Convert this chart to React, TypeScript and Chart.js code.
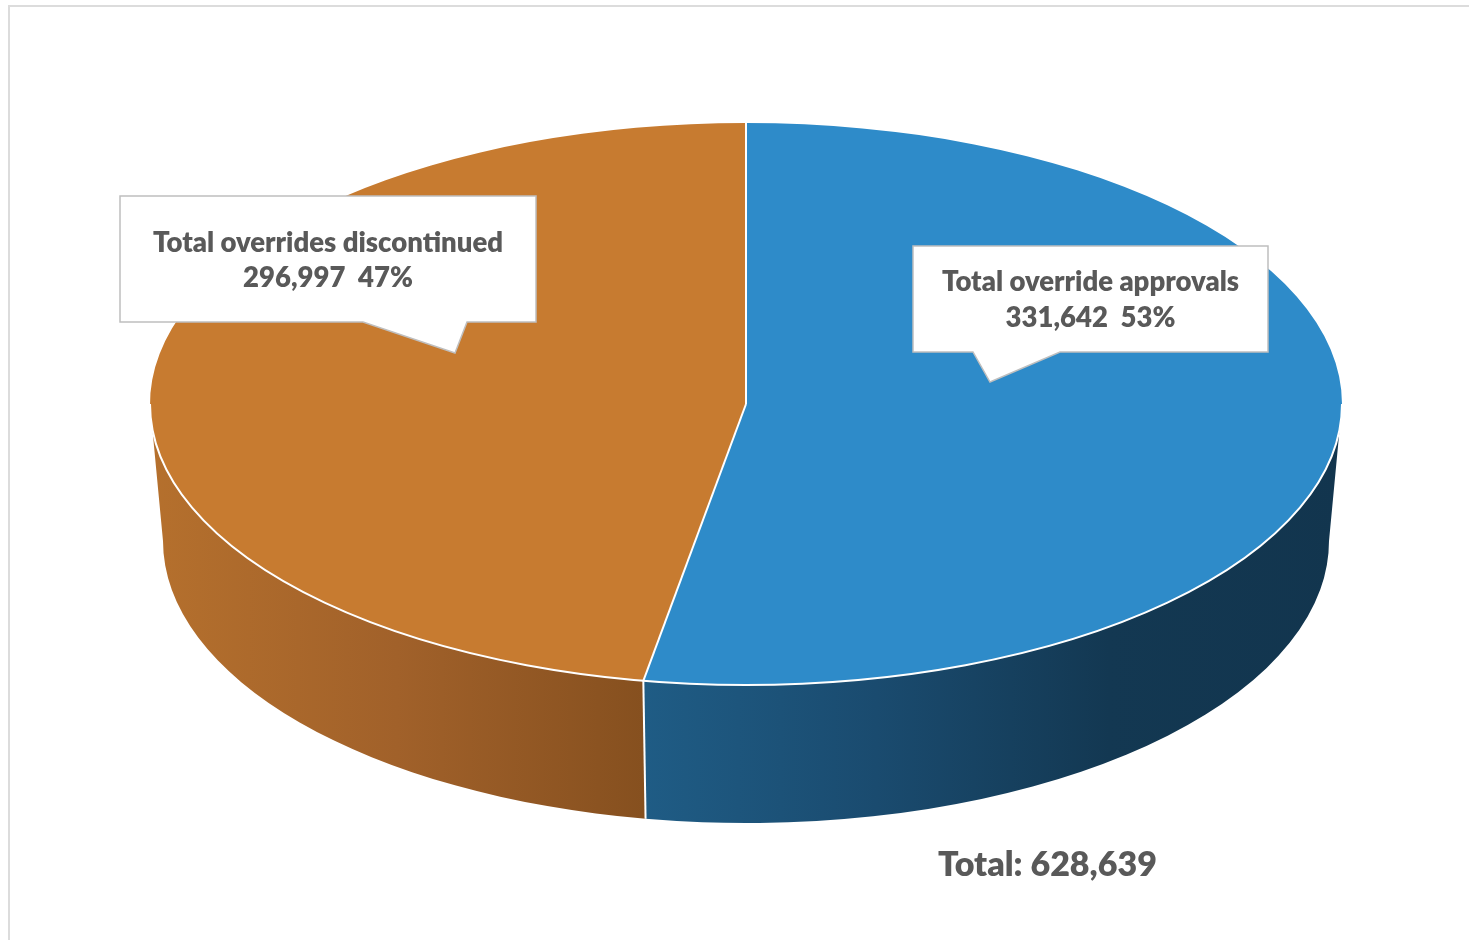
import React, { useEffect, useRef } from "react";
import { Chart, registerables } from "chart.js";

Chart.register(...registerables);

// ---- data ----
const CATEGORIES = ["Total override approvals", "Total overrides discontinued"];
const VALUES = [331642, 296997];
const TOTAL_PREFIX = "Total: ";

// ---- styles / layout ----
const TOP_COLORS = ["#2e8bc9", "#c77b30"];
const SIDE_COLORS = [
  ["#1f5c85", "#1a4b6f", "#133852", "#12354e"],
  ["#b5702d", "#a1612a", "#86501f"],
];
const CX = 746;
const CY = 404;
const RX = 596;
const RY = 281;
const DEPTH = 137;
const RXB = 583;
const RYB = 282;
const TEXT_COLOR = "#595959";
const FONT = "Lato, 'Open Sans', sans-serif";
const LABEL_WEIGHT = 800;
const LABEL_SIZE = 27.5;
const TOTAL_SIZE = 34;
const BOXES = [
  { x: 913, y: 246, w: 355, h: 106, pl: 973, pr: 1060, tx: 990, ty: 382, l1: 282, l2: 318 },
  { x: 120, y: 196, w: 416, h: 126, pl: 363, pr: 467, tx: 455, ty: 353, l1: 243, l2: 278 },
];

const fmt = (v: number) => v.toLocaleString("en-US");

const pie3d = {
  id: "pie3d",
  beforeDatasetsDraw(chart: any) {
    const ctx: CanvasRenderingContext2D = chart.ctx;
    const meta = chart.getDatasetMeta(0);
    // side walls
    meta.data.forEach((arc: any, i: number) => {
      const s = arc.startAngle;
      const e = arc.endAngle;
      for (const off of [0, -2 * Math.PI, 2 * Math.PI]) {
        const a1 = Math.max(s + off, 0);
        const a2 = Math.min(e + off, Math.PI);
        if (a2 <= a1) continue;
        const xl = CX + RX * Math.cos(a2);
        const xr = CX + RX * Math.cos(a1);
        const g = ctx.createLinearGradient(Math.min(xl, xr), 0, Math.max(xl, xr), 0);
        const cols = SIDE_COLORS[i % SIDE_COLORS.length];
        cols.forEach((c, k) => g.addColorStop(k / (cols.length - 1), c));
        ctx.save();
        ctx.beginPath();
        ctx.ellipse(CX, CY, RX, RY, 0, a1, a2, false);
        ctx.ellipse(CX, CY + DEPTH, RXB, RYB, 0, a2, a1, true);
        ctx.closePath();
        ctx.fillStyle = g;
        ctx.fill();
        ctx.restore();
      }
    });
    // vertical boundary lines on the side
    ctx.save();
    ctx.strokeStyle = "#ffffff";
    ctx.lineWidth = 2;
    meta.data.forEach((arc: any) => {
      let a = arc.startAngle;
      while (a < 0) a += 2 * Math.PI;
      while (a >= 2 * Math.PI) a -= 2 * Math.PI;
      if (a > 0.01 && a < Math.PI - 0.01) {
        ctx.beginPath();
        ctx.moveTo(CX + RX * Math.cos(a), CY + RY * Math.sin(a));
        ctx.lineTo(CX + RXB * Math.cos(a), CY + DEPTH + RYB * Math.sin(a));
        ctx.stroke();
      }
    });
    ctx.restore();
    // map the library's circle onto the ellipse of the top face
    const a0 = meta.data[0];
    ctx.save();
    ctx.translate(CX, CY);
    ctx.scale(RX / a0.outerRadius, RY / a0.outerRadius);
    ctx.translate(-a0.x, -a0.y);
  },
  afterDatasetsDraw(chart: any) {
    const ctx: CanvasRenderingContext2D = chart.ctx;
    ctx.restore();
    const meta = chart.getDatasetMeta(0);
    ctx.save();
    ctx.strokeStyle = "#ffffff";
    ctx.lineWidth = 2;
    // front edge of the top face
    ctx.beginPath();
    ctx.ellipse(CX, CY, RX, RY, 0, 0, Math.PI, false);
    ctx.stroke();
    // radial slice boundaries
    meta.data.forEach((arc: any) => {
      const a = arc.startAngle;
      ctx.beginPath();
      ctx.moveTo(CX, CY);
      ctx.lineTo(CX + RX * Math.cos(a), CY + RY * Math.sin(a));
      ctx.stroke();
    });
    ctx.restore();
  },
  afterDraw(chart: any) {
    const ctx: CanvasRenderingContext2D = chart.ctx;
    const total = VALUES.reduce((a, b) => a + b, 0);
    ctx.save();
    VALUES.forEach((v, i) => {
      const b = BOXES[i];
      ctx.beginPath();
      ctx.moveTo(b.x, b.y);
      ctx.lineTo(b.x + b.w, b.y);
      ctx.lineTo(b.x + b.w, b.y + b.h);
      ctx.lineTo(b.pr, b.y + b.h);
      ctx.lineTo(b.tx, b.ty);
      ctx.lineTo(b.pl, b.y + b.h);
      ctx.lineTo(b.x, b.y + b.h);
      ctx.closePath();
      ctx.fillStyle = "#ffffff";
      ctx.fill();
      ctx.strokeStyle = "#bfbfbf";
      ctx.lineWidth = 1.5;
      ctx.stroke();
      ctx.fillStyle = TEXT_COLOR;
      ctx.font = `${LABEL_WEIGHT} ${LABEL_SIZE}px ${FONT}`;
      ctx.textAlign = "center";
      ctx.textBaseline = "middle";
      const cx = b.x + b.w / 2;
      ctx.fillText(CATEGORIES[i], cx, b.l1);
      const pct = Math.round((v / total) * 100);
      ctx.fillText(`${fmt(v)}  ${pct}%`, cx, b.l2);
    });
    ctx.font = `${LABEL_WEIGHT} ${TOTAL_SIZE}px ${FONT}`;
    ctx.textAlign = "left";
    ctx.textBaseline = "alphabetic";
    ctx.fillStyle = TEXT_COLOR;
    ctx.fillText(`${TOTAL_PREFIX}${fmt(total)}`, 938, 876);
    ctx.restore();
  },
};

export default function App() {
  const ref = useRef<HTMLCanvasElement | null>(null);
  useEffect(() => {
    if (!ref.current) return;
    const chart = new Chart(ref.current, {
      type: "pie",
      data: {
        labels: CATEGORIES,
        datasets: [
          {
            data: VALUES,
            backgroundColor: TOP_COLORS,
            borderWidth: 0,
            clip: false as any,
          },
        ],
      },
      options: {
        responsive: false,
        devicePixelRatio: 1,
        animation: false,
        rotation: 0,
        plugins: {
          legend: { display: false },
          tooltip: { enabled: false },
        },
        events: [],
      },
      plugins: [pie3d],
    });
    return () => chart.destroy();
  }, []);
  return (
    <>
      <div
        style={{
          position: "fixed",
          left: 8,
          top: 5,
          width: 1461,
          height: 935,
          boxSizing: "border-box",
          borderTop: "2px solid #dcdcdc",
          borderLeft: "2px solid #dcdcdc",
          background: "#ffffff",
        }}
      />
      <canvas
        ref={ref}
        width={1469}
        height={940}
        style={{ position: "fixed", left: 0, top: 0, width: 1469, height: 940 }}
      />
    </>
  );
}
